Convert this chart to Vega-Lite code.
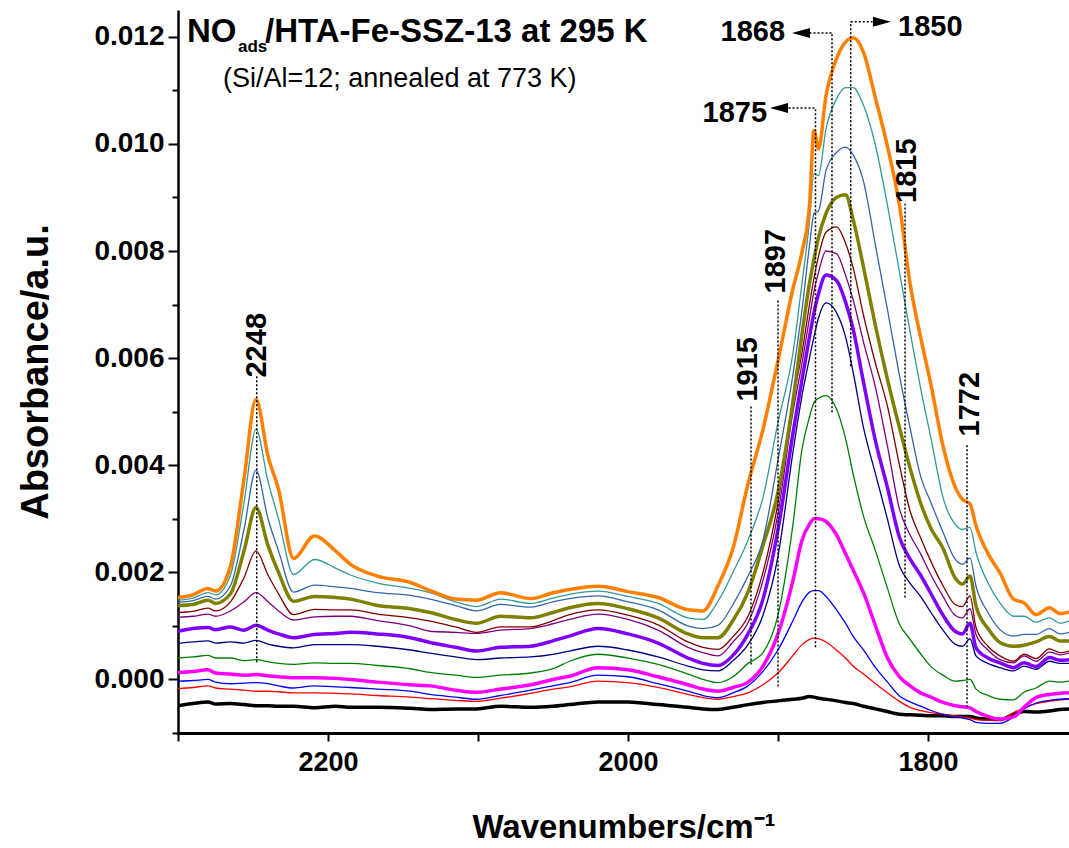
{
"$schema":"https://vega.github.io/schema/vega-lite/v6.json",
"width":891,"height":723,"autosize":"none",
"padding":{"left":178,"top":10,"right":0,"bottom":115},
"background":"white",
"config":{"view":{"stroke":null},"font":"Liberation Sans"},
"datasets":{
"spectra":[
{"s":"k","w":2300,"a":-0.00049},{"s":"k","w":2290,"a":-0.00045},{"s":"k","w":2280,"a":-0.00042},{"s":"k","w":2275,"a":-0.00046},{"s":"k","w":2265,"a":-0.00045},{"s":"k","w":2256,"a":-0.00047},{"s":"k","w":2248,"a":-0.00049},{"s":"k","w":2240,"a":-0.00049},{"s":"k","w":2233,"a":-0.0005},{"s":"k","w":2223,"a":-0.0005},{"s":"k","w":2209,"a":-0.00053},{"s":"k","w":2195,"a":-0.0005},{"s":"k","w":2185,"a":-0.00052},{"s":"k","w":2167,"a":-0.00052},{"s":"k","w":2145,"a":-0.00054},{"s":"k","w":2132,"a":-0.00056},{"s":"k","w":2115,"a":-0.00055},{"s":"k","w":2101,"a":-0.00055},{"s":"k","w":2085,"a":-0.0005},{"s":"k","w":2065,"a":-0.00052},{"s":"k","w":2050,"a":-0.0005},{"s":"k","w":2039,"a":-0.00047},{"s":"k","w":2020,"a":-0.00042},{"s":"k","w":2000,"a":-0.00042},{"s":"k","w":1980,"a":-0.00047},{"s":"k","w":1960,"a":-0.00052},{"s":"k","w":1950,"a":-0.00055},{"s":"k","w":1940,"a":-0.00056},{"s":"k","w":1930,"a":-0.00052},{"s":"k","w":1920,"a":-0.00047},{"s":"k","w":1910,"a":-0.00043},{"s":"k","w":1900,"a":-0.0004},{"s":"k","w":1890,"a":-0.00037},{"s":"k","w":1884,"a":-0.00035},{"s":"k","w":1879,"a":-0.00032},{"s":"k","w":1876,"a":-0.00033},{"s":"k","w":1873,"a":-0.00035},{"s":"k","w":1868,"a":-0.00037},{"s":"k","w":1861,"a":-0.0004},{"s":"k","w":1855,"a":-0.00043},{"s":"k","w":1850,"a":-0.00045},{"s":"k","w":1843,"a":-0.0005},{"s":"k","w":1835,"a":-0.00055},{"s":"k","w":1827,"a":-0.0006},{"s":"k","w":1819,"a":-0.00065},{"s":"k","w":1812,"a":-0.00066},{"s":"k","w":1805,"a":-0.00067},{"s":"k","w":1798,"a":-0.00068},{"s":"k","w":1790,"a":-0.00068},{"s":"k","w":1782,"a":-0.00069},{"s":"k","w":1777,"a":-0.00069},{"s":"k","w":1772,"a":-0.00069},{"s":"k","w":1768,"a":-0.00072},{"s":"k","w":1760,"a":-0.00074},{"s":"k","w":1752,"a":-0.00075},{"s":"k","w":1743,"a":-0.00065},{"s":"k","w":1736,"a":-0.0006},{"s":"k","w":1728,"a":-0.00061},{"s":"k","w":1719,"a":-0.00059},{"s":"k","w":1712,"a":-0.00056},{"s":"k","w":1706,"a":-0.00055},
{"s":"r","w":2300,"a":-0.00017},{"s":"r","w":2290,"a":-0.00015},{"s":"r","w":2280,"a":-0.00012},{"s":"r","w":2275,"a":-0.00016},{"s":"r","w":2265,"a":-0.00018},{"s":"r","w":2256,"a":-0.0002},{"s":"r","w":2248,"a":-0.00022},{"s":"r","w":2240,"a":-0.00022},{"s":"r","w":2233,"a":-0.00023},{"s":"r","w":2223,"a":-0.00025},{"s":"r","w":2209,"a":-0.00025},{"s":"r","w":2195,"a":-0.00026},{"s":"r","w":2185,"a":-0.00027},{"s":"r","w":2167,"a":-0.0003},{"s":"r","w":2145,"a":-0.00033},{"s":"r","w":2132,"a":-0.00036},{"s":"r","w":2115,"a":-0.00039},{"s":"r","w":2101,"a":-0.00041},{"s":"r","w":2085,"a":-0.00035},{"s":"r","w":2065,"a":-0.00026},{"s":"r","w":2050,"a":-0.00018},{"s":"r","w":2039,"a":-0.00014},{"s":"r","w":2020,"a":-0.00003},{"s":"r","w":2000,"a":-0.00006},{"s":"r","w":1980,"a":-0.00015},{"s":"r","w":1960,"a":-0.00028},{"s":"r","w":1950,"a":-0.00034},{"s":"r","w":1940,"a":-0.00037},{"s":"r","w":1930,"a":-0.00032},{"s":"r","w":1920,"a":-0.00025},{"s":"r","w":1910,"a":-0.0001},{"s":"r","w":1900,"a":0.00012},{"s":"r","w":1890,"a":0.00045},{"s":"r","w":1884,"a":0.00065},{"s":"r","w":1879,"a":0.00075},{"s":"r","w":1876,"a":0.00077},{"s":"r","w":1873,"a":0.00076},{"s":"r","w":1868,"a":0.0007},{"s":"r","w":1861,"a":0.00055},{"s":"r","w":1855,"a":0.0004},{"s":"r","w":1850,"a":0.00025},{"s":"r","w":1843,"a":0.0001},{"s":"r","w":1835,"a":-0.00008},{"s":"r","w":1827,"a":-0.00025},{"s":"r","w":1819,"a":-0.00041},{"s":"r","w":1812,"a":-0.00052},{"s":"r","w":1805,"a":-0.00058},{"s":"r","w":1798,"a":-0.00062},{"s":"r","w":1790,"a":-0.00065},{"s":"r","w":1782,"a":-0.00068},{"s":"r","w":1777,"a":-0.0007},{"s":"r","w":1772,"a":-0.00072},{"s":"r","w":1768,"a":-0.00075},{"s":"r","w":1760,"a":-0.00076},{"s":"r","w":1752,"a":-0.00076},{"s":"r","w":1743,"a":-0.00062},{"s":"r","w":1736,"a":-0.00053},{"s":"r","w":1728,"a":-0.00045},{"s":"r","w":1719,"a":-0.00041},{"s":"r","w":1712,"a":-0.00038},{"s":"r","w":1706,"a":-0.00037},
{"s":"b","w":2300,"a":-0.00003},{"s":"b","w":2290,"a":-0.00002},{"s":"b","w":2280,"a":0.0},{"s":"b","w":2275,"a":-0.00005},{"s":"b","w":2265,"a":-0.00008},{"s":"b","w":2256,"a":-0.00007},{"s":"b","w":2248,"a":-0.00006},{"s":"b","w":2240,"a":-0.00008},{"s":"b","w":2233,"a":-0.00012},{"s":"b","w":2223,"a":-0.00016},{"s":"b","w":2209,"a":-0.00012},{"s":"b","w":2195,"a":-0.00014},{"s":"b","w":2185,"a":-0.00015},{"s":"b","w":2167,"a":-0.00018},{"s":"b","w":2145,"a":-0.00022},{"s":"b","w":2132,"a":-0.00028},{"s":"b","w":2115,"a":-0.00033},{"s":"b","w":2101,"a":-0.00037},{"s":"b","w":2085,"a":-0.0003},{"s":"b","w":2065,"a":-0.0002},{"s":"b","w":2050,"a":-0.00012},{"s":"b","w":2039,"a":-0.00006},{"s":"b","w":2020,"a":0.00008},{"s":"b","w":2000,"a":0.00005},{"s":"b","w":1980,"a":-0.00008},{"s":"b","w":1960,"a":-0.00022},{"s":"b","w":1950,"a":-0.0003},{"s":"b","w":1940,"a":-0.00034},{"s":"b","w":1930,"a":-0.00025},{"s":"b","w":1920,"a":-0.00012},{"s":"b","w":1910,"a":0.00015},{"s":"b","w":1900,"a":0.00055},{"s":"b","w":1890,"a":0.0011},{"s":"b","w":1884,"a":0.00145},{"s":"b","w":1879,"a":0.00163},{"s":"b","w":1876,"a":0.00166},{"s":"b","w":1873,"a":0.00166},{"s":"b","w":1868,"a":0.00155},{"s":"b","w":1861,"a":0.0013},{"s":"b","w":1855,"a":0.00105},{"s":"b","w":1850,"a":0.00081},{"s":"b","w":1843,"a":0.00055},{"s":"b","w":1835,"a":0.00022},{"s":"b","w":1827,"a":-0.00005},{"s":"b","w":1819,"a":-0.00031},{"s":"b","w":1812,"a":-0.00042},{"s":"b","w":1805,"a":-0.0005},{"s":"b","w":1798,"a":-0.00058},{"s":"b","w":1790,"a":-0.00065},{"s":"b","w":1782,"a":-0.0007},{"s":"b","w":1777,"a":-0.00072},{"s":"b","w":1772,"a":-0.00075},{"s":"b","w":1768,"a":-0.0008},{"s":"b","w":1760,"a":-0.00082},{"s":"b","w":1752,"a":-0.00082},{"s":"b","w":1743,"a":-0.0007},{"s":"b","w":1736,"a":-0.00055},{"s":"b","w":1728,"a":-0.00044},{"s":"b","w":1719,"a":-0.00039},{"s":"b","w":1712,"a":-0.00037},{"s":"b","w":1706,"a":-0.00036},
{"s":"mg","w":2300,"a":0.00013},{"s":"mg","w":2290,"a":0.00015},{"s":"mg","w":2280,"a":0.00018},{"s":"mg","w":2275,"a":0.00012},{"s":"mg","w":2265,"a":0.0001},{"s":"mg","w":2256,"a":0.00008},{"s":"mg","w":2248,"a":0.00009},{"s":"mg","w":2240,"a":0.00007},{"s":"mg","w":2233,"a":0.00005},{"s":"mg","w":2223,"a":0.00003},{"s":"mg","w":2209,"a":0.00003},{"s":"mg","w":2195,"a":0.00002},{"s":"mg","w":2185,"a":0.0},{"s":"mg","w":2167,"a":-0.00005},{"s":"mg","w":2145,"a":-0.0001},{"s":"mg","w":2132,"a":-0.00012},{"s":"mg","w":2115,"a":-0.0002},{"s":"mg","w":2101,"a":-0.00024},{"s":"mg","w":2085,"a":-0.00018},{"s":"mg","w":2065,"a":-0.0001},{"s":"mg","w":2050,"a":0.0},{"s":"mg","w":2039,"a":0.00006},{"s":"mg","w":2020,"a":0.00022},{"s":"mg","w":2000,"a":0.00018},{"s":"mg","w":1980,"a":0.00005},{"s":"mg","w":1960,"a":-0.0001},{"s":"mg","w":1950,"a":-0.00018},{"s":"mg","w":1940,"a":-0.00022},{"s":"mg","w":1930,"a":-0.00015},{"s":"mg","w":1920,"a":-0.00005},{"s":"mg","w":1910,"a":0.00025},{"s":"mg","w":1900,"a":0.00085},{"s":"mg","w":1890,"a":0.00185},{"s":"mg","w":1884,"a":0.0026},{"s":"mg","w":1879,"a":0.0029},{"s":"mg","w":1876,"a":0.003},{"s":"mg","w":1873,"a":0.003},{"s":"mg","w":1868,"a":0.00295},{"s":"mg","w":1861,"a":0.0027},{"s":"mg","w":1855,"a":0.00235},{"s":"mg","w":1850,"a":0.00205},{"s":"mg","w":1843,"a":0.00162},{"s":"mg","w":1835,"a":0.001},{"s":"mg","w":1827,"a":0.0004},{"s":"mg","w":1819,"a":0.00005},{"s":"mg","w":1812,"a":-0.00012},{"s":"mg","w":1805,"a":-0.00025},{"s":"mg","w":1798,"a":-0.00033},{"s":"mg","w":1790,"a":-0.00043},{"s":"mg","w":1782,"a":-0.00049},{"s":"mg","w":1777,"a":-0.00051},{"s":"mg","w":1772,"a":-0.00053},{"s":"mg","w":1768,"a":-0.0006},{"s":"mg","w":1760,"a":-0.00069},{"s":"mg","w":1752,"a":-0.00074},{"s":"mg","w":1743,"a":-0.0007},{"s":"mg","w":1736,"a":-0.00052},{"s":"mg","w":1728,"a":-0.00034},{"s":"mg","w":1719,"a":-0.00028},{"s":"mg","w":1712,"a":-0.00026},{"s":"mg","w":1706,"a":-0.00025},
{"s":"g","w":2300,"a":0.0004},{"s":"g","w":2290,"a":0.00042},{"s":"g","w":2280,"a":0.00045},{"s":"g","w":2275,"a":0.0004},{"s":"g","w":2265,"a":0.0004},{"s":"g","w":2256,"a":0.00035},{"s":"g","w":2248,"a":0.00037},{"s":"g","w":2240,"a":0.00033},{"s":"g","w":2233,"a":0.0003},{"s":"g","w":2223,"a":0.00028},{"s":"g","w":2209,"a":0.00031},{"s":"g","w":2195,"a":0.0003},{"s":"g","w":2185,"a":0.0003},{"s":"g","w":2167,"a":0.00026},{"s":"g","w":2145,"a":0.0002},{"s":"g","w":2132,"a":0.00013},{"s":"g","w":2115,"a":0.00008},{"s":"g","w":2101,"a":0.00004},{"s":"g","w":2085,"a":0.00008},{"s":"g","w":2065,"a":0.00012},{"s":"g","w":2050,"a":0.0002},{"s":"g","w":2039,"a":0.00034},{"s":"g","w":2020,"a":0.00047},{"s":"g","w":2000,"a":0.0004},{"s":"g","w":1980,"a":0.00028},{"s":"g","w":1960,"a":0.0001},{"s":"g","w":1950,"a":0.0},{"s":"g","w":1940,"a":-0.00006},{"s":"g","w":1930,"a":0.00005},{"s":"g","w":1920,"a":0.0003},{"s":"g","w":1910,"a":0.0005},{"s":"g","w":1900,"a":0.0012},{"s":"g","w":1890,"a":0.0029},{"s":"g","w":1884,"a":0.0043},{"s":"g","w":1879,"a":0.0049},{"s":"g","w":1876,"a":0.00517},{"s":"g","w":1873,"a":0.00525},{"s":"g","w":1868,"a":0.0053},{"s":"g","w":1861,"a":0.00505},{"s":"g","w":1855,"a":0.0045},{"s":"g","w":1850,"a":0.00385},{"s":"g","w":1843,"a":0.00305},{"s":"g","w":1835,"a":0.0024},{"s":"g","w":1827,"a":0.0017},{"s":"g","w":1819,"a":0.00103},{"s":"g","w":1812,"a":0.00075},{"s":"g","w":1805,"a":0.00048},{"s":"g","w":1798,"a":0.00024},{"s":"g","w":1790,"a":0.00008},{"s":"g","w":1782,"a":-0.00003},{"s":"g","w":1777,"a":-0.00002},{"s":"g","w":1772,"a":0.0},{"s":"g","w":1768,"a":-0.00018},{"s":"g","w":1760,"a":-0.0003},{"s":"g","w":1752,"a":-0.00037},{"s":"g","w":1743,"a":-0.00038},{"s":"g","w":1736,"a":-0.00024},{"s":"g","w":1728,"a":-0.00016},{"s":"g","w":1719,"a":-0.00003},{"s":"g","w":1712,"a":-0.00005},{"s":"g","w":1706,"a":-0.00003},
{"s":"n","w":2300,"a":0.00067},{"s":"n","w":2290,"a":0.0007},{"s":"n","w":2280,"a":0.00072},{"s":"n","w":2275,"a":0.00068},{"s":"n","w":2265,"a":0.0007},{"s":"n","w":2256,"a":0.00068},{"s":"n","w":2248,"a":0.00073},{"s":"n","w":2240,"a":0.00066},{"s":"n","w":2233,"a":0.00062},{"s":"n","w":2223,"a":0.00059},{"s":"n","w":2209,"a":0.00065},{"s":"n","w":2195,"a":0.00065},{"s":"n","w":2185,"a":0.00065},{"s":"n","w":2167,"a":0.00062},{"s":"n","w":2145,"a":0.00055},{"s":"n","w":2132,"a":0.00049},{"s":"n","w":2115,"a":0.00042},{"s":"n","w":2101,"a":0.00037},{"s":"n","w":2085,"a":0.0004},{"s":"n","w":2065,"a":0.00042},{"s":"n","w":2050,"a":0.00047},{"s":"n","w":2039,"a":0.00053},{"s":"n","w":2020,"a":0.00062},{"s":"n","w":2000,"a":0.00055},{"s":"n","w":1980,"a":0.00042},{"s":"n","w":1960,"a":0.00025},{"s":"n","w":1950,"a":0.00018},{"s":"n","w":1940,"a":0.00016},{"s":"n","w":1930,"a":0.00035},{"s":"n","w":1920,"a":0.00065},{"s":"n","w":1910,"a":0.0012},{"s":"n","w":1900,"a":0.0023},{"s":"n","w":1890,"a":0.00425},{"s":"n","w":1884,"a":0.0053},{"s":"n","w":1879,"a":0.006},{"s":"n","w":1876,"a":0.0064},{"s":"n","w":1873,"a":0.00675},{"s":"n","w":1868,"a":0.00703},{"s":"n","w":1861,"a":0.00685},{"s":"n","w":1855,"a":0.0064},{"s":"n","w":1850,"a":0.00575},{"s":"n","w":1843,"a":0.0047},{"s":"n","w":1835,"a":0.00384},{"s":"n","w":1827,"a":0.00299},{"s":"n","w":1819,"a":0.00212},{"s":"n","w":1812,"a":0.0018},{"s":"n","w":1805,"a":0.00155},{"s":"n","w":1798,"a":0.00125},{"s":"n","w":1790,"a":0.00092},{"s":"n","w":1782,"a":0.00066},{"s":"n","w":1777,"a":0.00062},{"s":"n","w":1772,"a":0.00076},{"s":"n","w":1768,"a":0.00044},{"s":"n","w":1760,"a":0.0003},{"s":"n","w":1752,"a":0.00022},{"s":"n","w":1743,"a":0.00016},{"s":"n","w":1736,"a":0.00025},{"s":"n","w":1728,"a":0.00019},{"s":"n","w":1719,"a":0.00034},{"s":"n","w":1712,"a":0.0003},{"s":"n","w":1706,"a":0.0003},
{"s":"v","w":2300,"a":0.0009},{"s":"v","w":2290,"a":0.00095},{"s":"v","w":2280,"a":0.00097},{"s":"v","w":2275,"a":0.00093},{"s":"v","w":2265,"a":0.00098},{"s":"v","w":2256,"a":0.00092},{"s":"v","w":2248,"a":0.00101},{"s":"v","w":2240,"a":0.00092},{"s":"v","w":2233,"a":0.00085},{"s":"v","w":2223,"a":0.00078},{"s":"v","w":2209,"a":0.00084},{"s":"v","w":2195,"a":0.00086},{"s":"v","w":2185,"a":0.00088},{"s":"v","w":2167,"a":0.00085},{"s":"v","w":2145,"a":0.00078},{"s":"v","w":2132,"a":0.00069},{"s":"v","w":2115,"a":0.0006},{"s":"v","w":2101,"a":0.00053},{"s":"v","w":2085,"a":0.0006},{"s":"v","w":2065,"a":0.00062},{"s":"v","w":2050,"a":0.00072},{"s":"v","w":2039,"a":0.00081},{"s":"v","w":2020,"a":0.00095},{"s":"v","w":2000,"a":0.00085},{"s":"v","w":1980,"a":0.00068},{"s":"v","w":1960,"a":0.0004},{"s":"v","w":1950,"a":0.0003},{"s":"v","w":1940,"a":0.00026},{"s":"v","w":1930,"a":0.00045},{"s":"v","w":1920,"a":0.00085},{"s":"v","w":1910,"a":0.0015},{"s":"v","w":1900,"a":0.0028},{"s":"v","w":1890,"a":0.0046},{"s":"v","w":1884,"a":0.0056},{"s":"v","w":1879,"a":0.0064},{"s":"v","w":1876,"a":0.00685},{"s":"v","w":1873,"a":0.0072},{"s":"v","w":1868,"a":0.00755},{"s":"v","w":1861,"a":0.00745},{"s":"v","w":1855,"a":0.00705},{"s":"v","w":1850,"a":0.00655},{"s":"v","w":1843,"a":0.00555},{"s":"v","w":1835,"a":0.00445},{"s":"v","w":1827,"a":0.00358},{"s":"v","w":1819,"a":0.00265},{"s":"v","w":1812,"a":0.00225},{"s":"v","w":1805,"a":0.00195},{"s":"v","w":1798,"a":0.0016},{"s":"v","w":1790,"a":0.0012},{"s":"v","w":1782,"a":0.0009},{"s":"v","w":1777,"a":0.00085},{"s":"v","w":1772,"a":0.00105},{"s":"v","w":1768,"a":0.00059},{"s":"v","w":1760,"a":0.0004},{"s":"v","w":1752,"a":0.00031},{"s":"v","w":1743,"a":0.00022},{"s":"v","w":1736,"a":0.00031},{"s":"v","w":1728,"a":0.00024},{"s":"v","w":1719,"a":0.00041},{"s":"v","w":1712,"a":0.00036},{"s":"v","w":1706,"a":0.00037},
{"s":"p","w":2300,"a":0.00116},{"s":"p","w":2290,"a":0.00118},{"s":"p","w":2280,"a":0.00122},{"s":"p","w":2275,"a":0.00118},{"s":"p","w":2265,"a":0.00128},{"s":"p","w":2256,"a":0.00145},{"s":"p","w":2248,"a":0.00162},{"s":"p","w":2240,"a":0.00145},{"s":"p","w":2233,"a":0.00128},{"s":"p","w":2223,"a":0.00111},{"s":"p","w":2209,"a":0.00117},{"s":"p","w":2195,"a":0.00118},{"s":"p","w":2185,"a":0.00118},{"s":"p","w":2167,"a":0.0011},{"s":"p","w":2145,"a":0.001},{"s":"p","w":2132,"a":0.0009},{"s":"p","w":2115,"a":0.00088},{"s":"p","w":2101,"a":0.00086},{"s":"p","w":2085,"a":0.00092},{"s":"p","w":2065,"a":0.00095},{"s":"p","w":2050,"a":0.00104},{"s":"p","w":2039,"a":0.00112},{"s":"p","w":2020,"a":0.00122},{"s":"p","w":2000,"a":0.00112},{"s":"p","w":1980,"a":0.00092},{"s":"p","w":1960,"a":0.0006},{"s":"p","w":1950,"a":0.0005},{"s":"p","w":1940,"a":0.00044},{"s":"p","w":1930,"a":0.0007},{"s":"p","w":1920,"a":0.00106},{"s":"p","w":1910,"a":0.00185},{"s":"p","w":1900,"a":0.0031},{"s":"p","w":1890,"a":0.005},{"s":"p","w":1884,"a":0.0059},{"s":"p","w":1879,"a":0.00675},{"s":"p","w":1876,"a":0.00725},{"s":"p","w":1873,"a":0.0076},{"s":"p","w":1868,"a":0.008},{"s":"p","w":1861,"a":0.00795},{"s":"p","w":1855,"a":0.00755},{"s":"p","w":1850,"a":0.0071},{"s":"p","w":1843,"a":0.0063},{"s":"p","w":1835,"a":0.00545},{"s":"p","w":1827,"a":0.00435},{"s":"p","w":1819,"a":0.00318},{"s":"p","w":1812,"a":0.0027},{"s":"p","w":1805,"a":0.00235},{"s":"p","w":1798,"a":0.00195},{"s":"p","w":1790,"a":0.00155},{"s":"p","w":1782,"a":0.0012},{"s":"p","w":1777,"a":0.00115},{"s":"p","w":1772,"a":0.00132},{"s":"p","w":1768,"a":0.00084},{"s":"p","w":1760,"a":0.00055},{"s":"p","w":1752,"a":0.00037},{"s":"p","w":1743,"a":0.00031},{"s":"p","w":1736,"a":0.00044},{"s":"p","w":1728,"a":0.00034},{"s":"p","w":1719,"a":0.00051},{"s":"p","w":1712,"a":0.00046},{"s":"p","w":1706,"a":0.00049},
{"s":"m","w":2300,"a":0.00125},{"s":"m","w":2290,"a":0.00127},{"s":"m","w":2280,"a":0.00133},{"s":"m","w":2275,"a":0.00128},{"s":"m","w":2265,"a":0.00145},{"s":"m","w":2256,"a":0.0019},{"s":"m","w":2248,"a":0.0024},{"s":"m","w":2240,"a":0.00195},{"s":"m","w":2233,"a":0.0016},{"s":"m","w":2223,"a":0.00121},{"s":"m","w":2209,"a":0.00131},{"s":"m","w":2195,"a":0.0013},{"s":"m","w":2185,"a":0.0013},{"s":"m","w":2167,"a":0.00122},{"s":"m","w":2145,"a":0.00115},{"s":"m","w":2132,"a":0.00109},{"s":"m","w":2115,"a":0.00098},{"s":"m","w":2101,"a":0.00088},{"s":"m","w":2085,"a":0.00098},{"s":"m","w":2065,"a":0.00098},{"s":"m","w":2050,"a":0.0011},{"s":"m","w":2039,"a":0.00121},{"s":"m","w":2020,"a":0.0013},{"s":"m","w":2000,"a":0.0012},{"s":"m","w":1980,"a":0.00102},{"s":"m","w":1960,"a":0.0007},{"s":"m","w":1950,"a":0.0006},{"s":"m","w":1940,"a":0.00056},{"s":"m","w":1930,"a":0.0008},{"s":"m","w":1920,"a":0.00118},{"s":"m","w":1910,"a":0.002},{"s":"m","w":1900,"a":0.0033},{"s":"m","w":1890,"a":0.0052},{"s":"m","w":1884,"a":0.0061},{"s":"m","w":1879,"a":0.007},{"s":"m","w":1876,"a":0.0075},{"s":"m","w":1873,"a":0.0079},{"s":"m","w":1868,"a":0.00835},{"s":"m","w":1861,"a":0.00845},{"s":"m","w":1855,"a":0.00815},{"s":"m","w":1850,"a":0.0077},{"s":"m","w":1843,"a":0.0068},{"s":"m","w":1835,"a":0.0059},{"s":"m","w":1827,"a":0.0051},{"s":"m","w":1819,"a":0.004},{"s":"m","w":1812,"a":0.00315},{"s":"m","w":1805,"a":0.00265},{"s":"m","w":1798,"a":0.0022},{"s":"m","w":1790,"a":0.00175},{"s":"m","w":1782,"a":0.0014},{"s":"m","w":1777,"a":0.00136},{"s":"m","w":1772,"a":0.00156},{"s":"m","w":1768,"a":0.00097},{"s":"m","w":1760,"a":0.00062},{"s":"m","w":1752,"a":0.00044},{"s":"m","w":1743,"a":0.00034},{"s":"m","w":1736,"a":0.00047},{"s":"m","w":1728,"a":0.00039},{"s":"m","w":1719,"a":0.00057},{"s":"m","w":1712,"a":0.0005},{"s":"m","w":1706,"a":0.00053},
{"s":"ol","w":2300,"a":0.00138},{"s":"ol","w":2290,"a":0.0014},{"s":"ol","w":2280,"a":0.00148},{"s":"ol","w":2275,"a":0.00142},{"s":"ol","w":2265,"a":0.0016},{"s":"ol","w":2256,"a":0.0024},{"s":"ol","w":2248,"a":0.00321},{"s":"ol","w":2240,"a":0.0025},{"s":"ol","w":2233,"a":0.002},{"s":"ol","w":2223,"a":0.00146},{"s":"ol","w":2209,"a":0.00155},{"s":"ol","w":2195,"a":0.00153},{"s":"ol","w":2185,"a":0.0015},{"s":"ol","w":2167,"a":0.00138},{"s":"ol","w":2145,"a":0.00132},{"s":"ol","w":2132,"a":0.00125},{"s":"ol","w":2115,"a":0.00112},{"s":"ol","w":2101,"a":0.00105},{"s":"ol","w":2085,"a":0.00118},{"s":"ol","w":2065,"a":0.00115},{"s":"ol","w":2050,"a":0.00125},{"s":"ol","w":2039,"a":0.00134},{"s":"ol","w":2020,"a":0.00142},{"s":"ol","w":2000,"a":0.00132},{"s":"ol","w":1980,"a":0.00115},{"s":"ol","w":1960,"a":0.00085},{"s":"ol","w":1950,"a":0.00078},{"s":"ol","w":1940,"a":0.00078},{"s":"ol","w":1930,"a":0.0011},{"s":"ol","w":1920,"a":0.00163},{"s":"ol","w":1910,"a":0.0025},{"s":"ol","w":1900,"a":0.0035},{"s":"ol","w":1890,"a":0.0052},{"s":"ol","w":1884,"a":0.00645},{"s":"ol","w":1879,"a":0.0074},{"s":"ol","w":1876,"a":0.00785},{"s":"ol","w":1873,"a":0.00825},{"s":"ol","w":1868,"a":0.0087},{"s":"ol","w":1861,"a":0.009},{"s":"ol","w":1855,"a":0.00905},{"s":"ol","w":1850,"a":0.0086},{"s":"ol","w":1843,"a":0.0077},{"s":"ol","w":1835,"a":0.0066},{"s":"ol","w":1827,"a":0.0056},{"s":"ol","w":1819,"a":0.0047},{"s":"ol","w":1812,"a":0.00395},{"s":"ol","w":1805,"a":0.0033},{"s":"ol","w":1798,"a":0.00282},{"s":"ol","w":1790,"a":0.00245},{"s":"ol","w":1782,"a":0.0019},{"s":"ol","w":1777,"a":0.00178},{"s":"ol","w":1772,"a":0.00193},{"s":"ol","w":1768,"a":0.00137},{"s":"ol","w":1760,"a":0.00095},{"s":"ol","w":1752,"a":0.00069},{"s":"ol","w":1743,"a":0.00062},{"s":"ol","w":1736,"a":0.00064},{"s":"ol","w":1728,"a":0.0007},{"s":"ol","w":1719,"a":0.0008},{"s":"ol","w":1712,"a":0.00072},{"s":"ol","w":1706,"a":0.00072},
{"s":"sb","w":2300,"a":0.00144},{"s":"sb","w":2290,"a":0.00147},{"s":"sb","w":2280,"a":0.00155},{"s":"sb","w":2275,"a":0.0015},{"s":"sb","w":2265,"a":0.00175},{"s":"sb","w":2256,"a":0.0028},{"s":"sb","w":2248,"a":0.00391},{"s":"sb","w":2240,"a":0.003},{"s":"sb","w":2233,"a":0.0024},{"s":"sb","w":2223,"a":0.00163},{"s":"sb","w":2209,"a":0.00176},{"s":"sb","w":2195,"a":0.00173},{"s":"sb","w":2185,"a":0.0017},{"s":"sb","w":2167,"a":0.00162},{"s":"sb","w":2145,"a":0.00157},{"s":"sb","w":2132,"a":0.0015},{"s":"sb","w":2115,"a":0.00138},{"s":"sb","w":2101,"a":0.00128},{"s":"sb","w":2085,"a":0.0014},{"s":"sb","w":2065,"a":0.00135},{"s":"sb","w":2050,"a":0.00145},{"s":"sb","w":2039,"a":0.00151},{"s":"sb","w":2020,"a":0.00156},{"s":"sb","w":2000,"a":0.00145},{"s":"sb","w":1980,"a":0.0013},{"s":"sb","w":1960,"a":0.001},{"s":"sb","w":1950,"a":0.00095},{"s":"sb","w":1940,"a":0.00101},{"s":"sb","w":1930,"a":0.0014},{"s":"sb","w":1920,"a":0.00193},{"s":"sb","w":1910,"a":0.0026},{"s":"sb","w":1900,"a":0.0041},{"s":"sb","w":1890,"a":0.0057},{"s":"sb","w":1884,"a":0.0069},{"s":"sb","w":1879,"a":0.0081},{"s":"sb","w":1876,"a":0.0087},{"s":"sb","w":1873,"a":0.00875},{"s":"sb","w":1868,"a":0.0095},{"s":"sb","w":1861,"a":0.00984},{"s":"sb","w":1855,"a":0.00994},{"s":"sb","w":1850,"a":0.0098},{"s":"sb","w":1843,"a":0.0093},{"s":"sb","w":1835,"a":0.0081},{"s":"sb","w":1827,"a":0.0069},{"s":"sb","w":1819,"a":0.00567},{"s":"sb","w":1812,"a":0.0047},{"s":"sb","w":1805,"a":0.0038},{"s":"sb","w":1798,"a":0.0033},{"s":"sb","w":1790,"a":0.00275},{"s":"sb","w":1782,"a":0.00225},{"s":"sb","w":1777,"a":0.00215},{"s":"sb","w":1772,"a":0.00227},{"s":"sb","w":1768,"a":0.00174},{"s":"sb","w":1760,"a":0.00125},{"s":"sb","w":1752,"a":0.00093},{"s":"sb","w":1743,"a":0.00081},{"s":"sb","w":1736,"a":0.00084},{"s":"sb","w":1728,"a":0.00084},{"s":"sb","w":1719,"a":0.00095},{"s":"sb","w":1712,"a":0.00085},{"s":"sb","w":1706,"a":0.00088},
{"s":"t","w":2300,"a":0.00148},{"s":"t","w":2290,"a":0.00152},{"s":"t","w":2280,"a":0.00162},{"s":"t","w":2275,"a":0.00158},{"s":"t","w":2265,"a":0.00195},{"s":"t","w":2256,"a":0.0033},{"s":"t","w":2248,"a":0.00467},{"s":"t","w":2240,"a":0.0037},{"s":"t","w":2233,"a":0.003},{"s":"t","w":2223,"a":0.00196},{"s":"t","w":2209,"a":0.00224},{"s":"t","w":2195,"a":0.00208},{"s":"t","w":2185,"a":0.00195},{"s":"t","w":2167,"a":0.0018},{"s":"t","w":2145,"a":0.0017},{"s":"t","w":2132,"a":0.00162},{"s":"t","w":2115,"a":0.00145},{"s":"t","w":2101,"a":0.00136},{"s":"t","w":2085,"a":0.0015},{"s":"t","w":2065,"a":0.00142},{"s":"t","w":2050,"a":0.00152},{"s":"t","w":2039,"a":0.00159},{"s":"t","w":2020,"a":0.00165},{"s":"t","w":2000,"a":0.00155},{"s":"t","w":1980,"a":0.00142},{"s":"t","w":1960,"a":0.00115},{"s":"t","w":1950,"a":0.00112},{"s":"t","w":1940,"a":0.00146},{"s":"t","w":1930,"a":0.002},{"s":"t","w":1920,"a":0.0026},{"s":"t","w":1910,"a":0.0034},{"s":"t","w":1900,"a":0.0048},{"s":"t","w":1890,"a":0.0061},{"s":"t","w":1884,"a":0.0074},{"s":"t","w":1879,"a":0.00855},{"s":"t","w":1876,"a":0.00945},{"s":"t","w":1873,"a":0.00941},{"s":"t","w":1868,"a":0.01028},{"s":"t","w":1861,"a":0.01084},{"s":"t","w":1855,"a":0.01105},{"s":"t","w":1850,"a":0.01105},{"s":"t","w":1843,"a":0.01072},{"s":"t","w":1835,"a":0.00997},{"s":"t","w":1827,"a":0.00885},{"s":"t","w":1819,"a":0.0076},{"s":"t","w":1812,"a":0.0065},{"s":"t","w":1805,"a":0.00545},{"s":"t","w":1798,"a":0.0045},{"s":"t","w":1790,"a":0.0034},{"s":"t","w":1782,"a":0.0029},{"s":"t","w":1777,"a":0.0028},{"s":"t","w":1772,"a":0.00284},{"s":"t","w":1768,"a":0.00237},{"s":"t","w":1760,"a":0.0018},{"s":"t","w":1752,"a":0.00143},{"s":"t","w":1743,"a":0.00118},{"s":"t","w":1736,"a":0.00118},{"s":"t","w":1728,"a":0.00107},{"s":"t","w":1719,"a":0.00115},{"s":"t","w":1712,"a":0.00105},{"s":"t","w":1706,"a":0.00109},
{"s":"o","w":2300,"a":0.00153},{"s":"o","w":2290,"a":0.00158},{"s":"o","w":2280,"a":0.0017},{"s":"o","w":2275,"a":0.00165},{"s":"o","w":2265,"a":0.00212},{"s":"o","w":2256,"a":0.00374},{"s":"o","w":2248,"a":0.00523},{"s":"o","w":2240,"a":0.00417},{"s":"o","w":2233,"a":0.00355},{"s":"o","w":2223,"a":0.00226},{"s":"o","w":2209,"a":0.00268},{"s":"o","w":2195,"a":0.0024},{"s":"o","w":2185,"a":0.00215},{"s":"o","w":2167,"a":0.00193},{"s":"o","w":2145,"a":0.00181},{"s":"o","w":2132,"a":0.00166},{"s":"o","w":2115,"a":0.0015},{"s":"o","w":2101,"a":0.00148},{"s":"o","w":2085,"a":0.00162},{"s":"o","w":2065,"a":0.00151},{"s":"o","w":2050,"a":0.00162},{"s":"o","w":2039,"a":0.00168},{"s":"o","w":2020,"a":0.00174},{"s":"o","w":2000,"a":0.00164},{"s":"o","w":1980,"a":0.00153},{"s":"o","w":1960,"a":0.0013},{"s":"o","w":1950,"a":0.00128},{"s":"o","w":1940,"a":0.00175},{"s":"o","w":1930,"a":0.00245},{"s":"o","w":1920,"a":0.00365},{"s":"o","w":1910,"a":0.00467},{"s":"o","w":1900,"a":0.00595},{"s":"o","w":1890,"a":0.0073},{"s":"o","w":1884,"a":0.00798},{"s":"o","w":1879,"a":0.00885},{"s":"o","w":1876,"a":0.01025},{"s":"o","w":1873,"a":0.00991},{"s":"o","w":1868,"a":0.0109},{"s":"o","w":1861,"a":0.01159},{"s":"o","w":1855,"a":0.0119},{"s":"o","w":1850,"a":0.01198},{"s":"o","w":1843,"a":0.01171},{"s":"o","w":1835,"a":0.01085},{"s":"o","w":1827,"a":0.00995},{"s":"o","w":1819,"a":0.00885},{"s":"o","w":1812,"a":0.0074},{"s":"o","w":1805,"a":0.0064},{"s":"o","w":1798,"a":0.0055},{"s":"o","w":1790,"a":0.00436},{"s":"o","w":1782,"a":0.0036},{"s":"o","w":1777,"a":0.00336},{"s":"o","w":1772,"a":0.00328},{"s":"o","w":1768,"a":0.00287},{"s":"o","w":1760,"a":0.00235},{"s":"o","w":1752,"a":0.00199},{"s":"o","w":1743,"a":0.0015},{"s":"o","w":1736,"a":0.00143},{"s":"o","w":1728,"a":0.00121},{"s":"o","w":1719,"a":0.00134},{"s":"o","w":1712,"a":0.00123},{"s":"o","w":1706,"a":0.00126}
],
"vr":[{"w":2247.5,"a":0.00032,"a2":0.0057},{"w":1918,"a":0.00028,"a2":0.0051},{"w":1900,"a":-0.00013,"a2":0.0071},{"w":1875,"a":0.0006,"a2":0.01067},{"w":1864,"a":0.00499,"a2":0.01207},{"w":1851.5,"a":0.00585,"a2":0.01228},{"w":1815.3,"a":0.00153,"a2":0.00888},{"w":1774,"a":-0.00052,"a2":0.00439}],
"hr":[{"w":1893,"w2":1875,"a":0.01067},{"w":1879,"w2":1864,"a":0.01207},{"w":1851.5,"w2":1837,"a":0.01228}],
"arl":[{"w":1899.3,"a":0.01067},{"w":1884.7,"a":0.01207}],
"arr":[{"w":1830.7,"a":0.01228}],
"lblR":[{"t":"1875","w":1907.3,"a":0.01058},{"t":"1868","w":1895.3,"a":0.01209}],
"lblL":[{"t":"1850","w":1820,"a":0.01219}],
"lblV":[{"t":"2248","w":2247.3,"a":0.00624},{"t":"1915","w":1920,"a":0.00579},{"t":"1897","w":1901.3,"a":0.00781},{"t":"1815","w":1814,"a":0.0095},{"t":"1772","w":1772,"a":0.00514}],
"ttl":[{"t":"NO","w":2294,"a":0.01191},{"t":"/HTA-Fe-SSZ-13 at 295 K","w":2242,"a":0.01191}],
"ttlsub":[{"t":"ads","w":2260,"a":0.01172}],
"sub":[{"t":"(Si/Al=12; annealed at 773 K)","w":2270,"a":0.01107}]
},
"layer":[
{"data":{"name":"spectra"},
 "mark":{"type":"line","interpolate":"monotone","clip":true},
 "encoding":{
  "x":{"field":"w","type":"quantitative",
   "scale":{"domain":[1706,2300],"reverse":true,"nice":false,"zero":false},
   "axis":{"title":"Wavenumbers/cm⁻¹","values":[2300,2200,2100,2000,1900,1800],
    "labelExpr":"datum.value % 200 == 0 ? datum.value : ''",
    "grid":false,"domainColor":"black","domainWidth":3,"tickColor":"black","tickWidth":2,"tickSize":8,
    "labelFont":"Liberation Sans","labelFontWeight":"bold","labelFontSize":27,"labelColor":"black","labelPadding":8,
    "titleFont":"Liberation Sans","titleFontSize":33,"titleFontWeight":"bold","titleColor":"black","titlePadding":36}},
  "y":{"field":"a","type":"quantitative",
   "scale":{"domain":[-0.001,0.0125],"nice":false,"zero":false},
   "axis":{"title":"Absorbance/a.u.","values":[-0.001,0,0.001,0.002,0.003,0.004,0.005,0.006,0.007,0.008,0.009,0.01,0.011,0.012],
    "labelExpr":"round(datum.value*1000) % 2 == 0 ? format(datum.value, '.3f') : ''",
    "grid":false,"domainColor":"black","domainWidth":2.5,"tickColor":"black","tickWidth":2,
    "tickSize":{"condition":{"test":"round(datum.value*1000) % 2 == 0","value":10},"value":6},
    "labelFont":"Liberation Sans","labelFontWeight":"bold","labelFontSize":28,"labelColor":"black","labelPadding":4,
    "titleFont":"Liberation Sans","titleFontSize":38,"titleFontWeight":"bold","titleColor":"black","titlePadding":38}},
  "color":{"field":"s","type":"nominal","legend":null,
   "scale":{"domain":["k","r","b","mg","g","n","v","p","m","ol","sb","t","o"],
    "range":["#000000","#ff0000","#0000ff","#ff00ff","#008000","#000080","#8000ff","#800080","#800000","#808000","#3366aa","#339999","#ff8000"]}},
  "strokeWidth":{"condition":{"test":"indexof(['k','mg','v','ol','o'], datum.s) >= 0","value":3.5},"value":1.3}
 }},
{"data":{"name":"vr"},"mark":{"type":"rule","strokeDash":[2,2],"color":"black","strokeWidth":1.5},
 "encoding":{"x":{"field":"w","type":"quantitative"},"y":{"field":"a","type":"quantitative"},"y2":{"field":"a2"}}},
{"data":{"name":"hr"},"mark":{"type":"rule","strokeDash":[2,2],"color":"black","strokeWidth":1.5},
 "encoding":{"x":{"field":"w","type":"quantitative"},"x2":{"field":"w2"},"y":{"field":"a","type":"quantitative"}}},
{"data":{"name":"arl"},"mark":{"type":"point","shape":"M1,-0.55L-1,0L1,0.55Z","size":324,"filled":true,"color":"black","opacity":1},
 "encoding":{"x":{"field":"w","type":"quantitative"},"y":{"field":"a","type":"quantitative"}}},
{"data":{"name":"arr"},"mark":{"type":"point","shape":"M-1,-0.55L1,0L-1,0.55Z","size":324,"filled":true,"color":"black","opacity":1},
 "encoding":{"x":{"field":"w","type":"quantitative"},"y":{"field":"a","type":"quantitative"}}},
{"data":{"name":"lblR"},"mark":{"type":"text","align":"right","baseline":"middle","font":"Liberation Sans","fontWeight":"bold","fontSize":29,"color":"black"},
 "encoding":{"x":{"field":"w","type":"quantitative"},"y":{"field":"a","type":"quantitative"},"text":{"field":"t"}}},
{"data":{"name":"lblL"},"mark":{"type":"text","align":"left","baseline":"middle","font":"Liberation Sans","fontWeight":"bold","fontSize":29,"color":"black"},
 "encoding":{"x":{"field":"w","type":"quantitative"},"y":{"field":"a","type":"quantitative"},"text":{"field":"t"}}},
{"data":{"name":"lblV"},"mark":{"type":"text","align":"center","baseline":"middle","angle":270,"font":"Liberation Sans","fontWeight":"bold","fontSize":29,"color":"black"},
 "encoding":{"x":{"field":"w","type":"quantitative"},"y":{"field":"a","type":"quantitative"},"text":{"field":"t"}}},
{"data":{"name":"ttl"},"mark":{"type":"text","align":"left","baseline":"alphabetic","font":"Liberation Sans","fontWeight":"bold","fontSize":33,"color":"black"},
 "encoding":{"x":{"field":"w","type":"quantitative"},"y":{"field":"a","type":"quantitative"},"text":{"field":"t"}}},
{"data":{"name":"ttlsub"},"mark":{"type":"text","align":"left","baseline":"alphabetic","font":"Liberation Sans","fontWeight":"bold","fontSize":17,"color":"black"},
 "encoding":{"x":{"field":"w","type":"quantitative"},"y":{"field":"a","type":"quantitative"},"text":{"field":"t"}}},
{"data":{"name":"sub"},"mark":{"type":"text","align":"left","baseline":"alphabetic","font":"Liberation Sans","fontSize":27,"color":"black"},
 "encoding":{"x":{"field":"w","type":"quantitative"},"y":{"field":"a","type":"quantitative"},"text":{"field":"t"}}}
]
}
